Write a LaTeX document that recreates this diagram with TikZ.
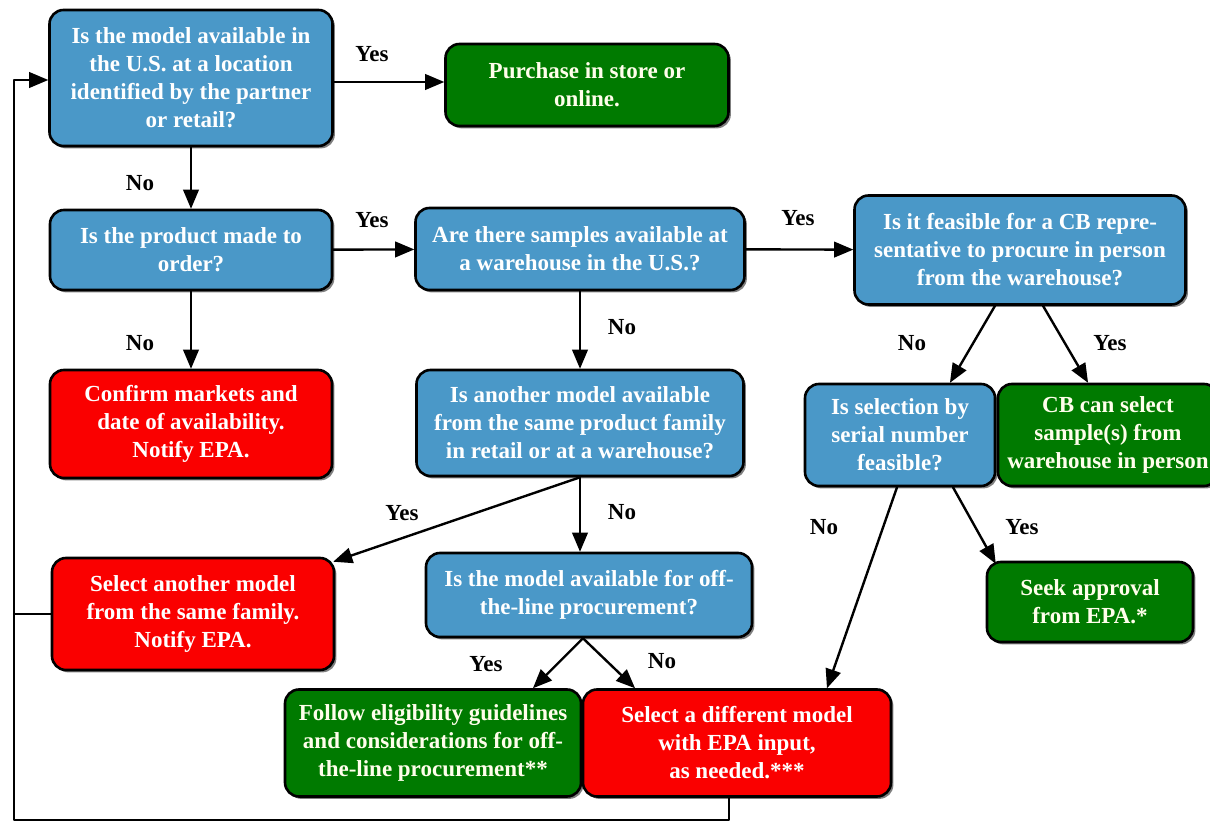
\documentclass[tikz,border=0pt]{standalone}
\usepackage{fontspec}
\setmainfont{Liberation Serif}
\usetikzlibrary{arrows,shadows}
\definecolor{qblue}{RGB}{74,152,200}
\definecolor{okgreen}{RGB}{0,122,0}
\definecolor{stopred}{RGB}{250,0,0}

\tikzset{
  box/.style={draw=black, line width=1.3pt, rounded corners=7pt, align=center, text=white, inner sep=2pt,
    font=\fontsize{11.5}{14}\selectfont\bfseries,
    drop shadow={shadow xshift=1.2pt, shadow yshift=-1.2pt, fill=black, opacity=0.5}},
  qbox/.style={box, fill=qblue},
  gobox/.style={box, fill=okgreen, text=white!92!yellow},
  stopbox/.style={box, fill=stopred},
  lbl/.style={font=\fontsize{11.5}{14}\selectfont\bfseries},
  conn/.style={->, line width=1.2pt}
}

\begin{document}
\begin{tikzpicture}[line cap=round,line join=round,>=triangle 45,x=0.5pt,y=-0.5pt]
\useasboundingbox (0,0) rectangle (1210,822);
% questions and outcomes
\node[qbox, minimum width=141.5pt, minimum height=68pt] (avail) at (191,78) {Is the model available in\\ the U.S. at a location\\ identified by the partner\\ or retail?};
\node[gobox, minimum width=141.5pt, minimum height=41pt] (buy) at (587,85) {Purchase in store or\\ online.};
\node[qbox, minimum width=141pt, minimum height=40pt] (order) at (191,250) {Is the product made to\\ order?};
\node[qbox, minimum width=164.5pt, minimum height=41pt] (samples) at (580,249) {Are there samples available at\\ a warehouse in the U.S.?};
\node[qbox, minimum width=165.5pt, minimum height=54.5pt] (inperson) at (1020,250) {Is it feasible for a CB repre-\\ sentative to procure in person\\ from the warehouse?};
\node[stopbox, minimum width=141pt, minimum height=54pt] (confirm) at (191,424) {Confirm markets and\\ date of availability.\\ Notify EPA.};
\node[qbox, minimum width=163.5pt, minimum height=53pt] (family) at (580,423) {Is another model available\\ from the same product family\\ in retail or at a warehouse?};
\node[qbox, minimum width=95pt, minimum height=51pt] (serial) at (900,435) {Is selection by\\ serial number\\ feasible?};
\node[gobox, minimum width=110pt, minimum height=51pt] (cbselect) at (1108,435) {CB can select\\ sample(s) from\\ warehouse in person};
\node[stopbox, minimum width=141pt, minimum height=56pt] (another) at (193,614) {Select another model\\ from the same family.\\ Notify EPA.};
\node[qbox, minimum width=163pt, minimum height=42pt] (offline) at (589,595) {Is the model available for off-\\ the-line procurement?};
\node[gobox, minimum width=148pt, minimum height=53.5pt] (follow) at (433,743) {Follow eligibility guidelines\\ and considerations for off-\\ the-line procurement**};
\node[stopbox, minimum width=154pt, minimum height=53.5pt] (different) at (737,743) {Select a different model\\ with EPA input,\\ as needed.***};
\node[gobox, minimum width=103pt, minimum height=40pt] (approval) at (1090,602) {Seek approval\\ from EPA.*};

% connectors
\draw[conn] ([yshift=-2pt]avail.east) -- ([yshift=-2pt]avail.east -| buy.west);
\draw[conn] (avail) -- (order);
\draw[conn] (order) -- (samples);
\draw[conn] (samples) -- (inperson);
\draw[conn] (order) -- (confirm);
\draw[conn] (samples) -- (family);
\draw[conn] ([xshift=-12.5pt]inperson.south) -- ([xshift=25pt]serial.north);
\draw[conn] ([xshift=11.5pt]inperson.south) -- ([xshift=-10pt]cbselect.north);
\draw[conn] (family.south) -- ([xshift=-1pt,yshift=-2.5pt]another.north east);
\draw[conn] (family.south) -- (family.south |- offline.north);
\draw[conn] ([xshift=-1.5pt]serial.south) -- ([xshift=45pt]different.north);
\draw[conn] ([xshift=26.5pt]serial.south) -- ([xshift=5pt,yshift=-1.5pt]approval.north west);
\draw[conn] ([xshift=-3pt]offline.south) -- ([xshift=50pt]follow.north);
\draw[conn] ([xshift=-3pt]offline.south) -- ([xshift=-51pt]different.north);

% loop back to the start
\coordinate (loop) at (14,820);
\draw[conn] ([xshift=-4pt]different.south) |- (loop) |- ([yshift=-1pt]avail.west);
\draw[line width=1.2pt] (another.west) -- (another.west -| loop);

% answers
\node[lbl] (yesbuy) at (372,54) {Yes};
\node[lbl] (noorder) at (140,183) {No};
\node[lbl] (yessamples) at (372,220) {Yes};
\node[lbl] (yesperson) at (798,218) {Yes};
\node[lbl] (noconfirm) at (140,343) {No};
\node[lbl] (nofamily) at (622,327) {No};
\node[lbl] (noserial) at (912,343) {No};
\node[lbl] (yescb) at (1110,343) {Yes};
\node[lbl] (yesanother) at (402,513) {Yes};
\node[lbl] (nooffline) at (622,512) {No};
\node[lbl] (nodiff) at (824,527) {No};
\node[lbl] (yesapproval) at (1022,527) {Yes};
\node[lbl] (yesfollow) at (486,664) {Yes};
\node[lbl] (nodifferent) at (662,661) {No};
\end{tikzpicture}
\end{document}
